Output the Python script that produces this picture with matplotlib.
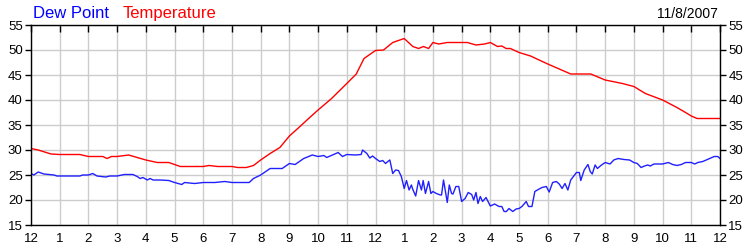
import matplotlib
matplotlib.use('Agg')
import matplotlib.pyplot as plt

# hours since midnight, values in deg F
temp_hours = [0, 0.25, 0.7, 1, 1.7, 2, 2.5, 2.65, 2.8, 3, 3.4, 3.7, 4, 4.4, 4.8, 5.0, 5.2,
              6, 6.2, 6.5, 7, 7.2, 7.5, 7.75, 8, 8.33, 8.67, 9, 9.37, 9.67, 10, 10.47,
              11, 11.33, 11.6, 12, 12.28, 12.6, 13, 13.3, 13.5, 13.67, 13.85, 14, 14.2,
              14.5, 15.2, 15.5, 15.8, 16, 16.25, 16.4, 16.55, 16.7, 17, 17.4, 17.7, 18,
              18.4, 18.8, 19.5, 20, 20.6, 21, 21.4, 22, 22.5, 22.8, 23, 23.2, 24]
temp_vals = [30.3, 30.0, 29.2, 29.1, 29.1, 28.7, 28.7, 28.3, 28.7, 28.7, 29.0, 28.5, 28.0,
             27.5, 27.5, 27.1, 26.7, 26.7, 26.9, 26.7, 26.7, 26.5, 26.5, 26.9, 28.0, 29.3,
             30.5, 32.8, 34.7, 36.3, 38.0, 40.3, 43.3, 45.2, 48.3, 49.9, 50.0, 51.5, 52.3,
             50.7, 50.3, 50.7, 50.3, 51.5, 51.2, 51.5, 51.5, 51.0, 51.2, 51.5, 50.7, 50.8,
             50.3, 50.3, 49.5, 48.8, 48.0, 47.2, 46.2, 45.2, 45.2, 44.0, 43.3, 42.7, 41.3,
             40.0, 38.5, 37.5, 36.8, 36.3, 36.3]

dew_hours = [0, 0.1, 0.25, 0.45, 0.8, 0.9, 1, 1.7, 1.8, 2,
             2.15, 2.3, 2.6, 2.75, 3, 3.25, 3.55, 3.7, 3.8, 3.9,
             4.05, 4.15, 4.25, 4.5, 4.8, 5, 5.25, 5.35, 5.7, 6,
             6.4, 6.75, 7, 7.6, 7.75, 8, 8.33, 8.75, 9, 9.2,
             9.5, 9.8, 10, 10.2, 10.3, 10.5, 10.7, 10.85, 11, 11.3,
             11.5, 11.55, 11.7, 11.8, 11.9, 12.0, 12.15, 12.25, 12.35, 12.45,
             12.5, 12.6, 12.7, 12.8, 12.9, 13, 13.08, 13.17, 13.25, 13.3,
             13.4, 13.5, 13.6, 13.66, 13.74, 13.85, 13.93, 14, 14.12, 14.26,
             14.3, 14.37, 14.5, 14.57, 14.65, 14.7, 14.8, 14.9, 15, 15.12,
             15.23, 15.35, 15.42, 15.5, 15.57, 15.65, 15.73, 15.85, 16, 16.15,
             16.3, 16.4, 16.48, 16.56, 16.65, 16.78, 16.9, 17, 17.1, 17.25,
             17.33, 17.45, 17.55, 17.67, 17.8, 17.95, 18.05, 18.17, 18.3, 18.4,
             18.5, 18.6, 18.7, 18.8, 19.0, 19.1, 19.15, 19.27, 19.4, 19.48,
             19.55, 19.65, 19.73, 19.85, 20, 20.17, 20.3, 20.45, 20.65, 20.85,
             21, 21.12, 21.25, 21.37, 21.48, 21.57, 21.7, 22, 22.2, 22.35,
             22.5, 22.65, 22.8, 23, 23.12, 23.23, 23.4, 23.6, 23.8, 23.92,
             24]
dew_vals = [25.3, 25.0, 25.6, 25.2, 25.0, 24.8, 24.8, 24.8, 25.0, 25.0,
            25.3, 24.8, 24.6, 24.8, 24.8, 25.1, 25.1, 24.7, 24.3, 24.5,
            24.0, 24.3, 24.0, 24.0, 23.9, 23.5, 23.1, 23.5, 23.3, 23.5,
            23.5, 23.7, 23.5, 23.5, 24.3, 25.0, 26.3, 26.3, 27.3, 27.1,
            28.3, 29.0, 28.7, 28.9, 28.5, 29.0, 29.5, 28.7, 29.1, 29.0,
            29.1, 30.0, 29.3, 28.4, 28.8, 28.3, 27.7, 27.9, 27.3, 27.8,
            28.0, 25.3, 26.0, 25.9, 24.7, 22.3, 23.9, 22.0, 23.0, 22.1,
            20.8, 23.9, 22.0, 23.9, 21.3, 23.7, 21.3, 21.7, 21.3, 21.0,
            21.0, 24.0, 19.5, 23.0, 21.3, 21.2, 22.7, 22.7, 19.7, 20.3,
            21.5, 21.1, 20.0, 21.5, 19.3, 20.7, 19.7, 20.5, 18.8, 19.2,
            18.7, 18.7, 17.7, 17.7, 18.3, 17.7, 18.2, 18.3, 18.7, 19.7,
            18.7, 18.7, 21.7, 22.1, 22.5, 22.7, 21.6, 23.5, 23.7, 23.2,
            22.3, 23.3, 22.0, 24.0, 25.5, 25.5, 23.9, 26.0, 27.1, 25.7,
            25.2, 27.0, 26.3, 26.9, 27.5, 27.2, 28.0, 28.3, 28.1, 28.0,
            27.5, 27.3, 26.5, 26.8, 27.0, 26.8, 27.2, 27.2, 27.5, 27.1,
            26.9, 27.1, 27.5, 27.5, 27.2, 27.5, 27.7, 28.2, 28.7, 28.7,
            28.3]

hour_labels = ['12', '1', '2', '3', '4', '5', '6', '7', '8', '9', '10', '11',
               '12', '1', '2', '3', '4', '5', '6', '7', '8', '9', '10', '11', '12']
y_ticks = [15, 20, 25, 30, 35, 40, 45, 50, 55]

plt.rcParams['font.family'] = ['Liberation Sans', 'DejaVu Sans']

fig = plt.figure(figsize=(7.5, 2.5), dpi=100)
ax = fig.add_axes([31 / 750, 25 / 250, 689 / 750, 200 / 250])

ax.plot(temp_hours, temp_vals, color='#ff0000', linewidth=1)
ax.plot(dew_hours, dew_vals, color='#2020ff', linewidth=1)

ax.set_xlim(0, 24)
ax.set_ylim(15, 55)
ax.set_xticks(range(25))
ax.set_xticklabels(hour_labels)
ax.set_yticks(y_ticks)
ax.grid(True, color='#cccccc', linewidth=1)
ax.set_axisbelow(True)

ax.tick_params(axis='x', bottom=False, top=True, direction='in', length=5,
               labelsize=9.5, pad=6, width=1)
ax.tick_params(axis='y', left=True, right=True, labelleft=True, labelright=True,
               direction='out', length=4, labelsize=9.5, pad=2, width=1)
for s in ax.spines.values():
    s.set_color('black')
    s.set_linewidth(1)

fig.text(33 / 750, 1 - 18 / 250, 'Dew Point', color='#0000ff', fontsize=12,
         ha='left', va='baseline')
fig.text(123 / 750, 1 - 18 / 250, 'Temperature', color='#ff0000', fontsize=12,
         ha='left', va='baseline')
fig.text(718 / 750, 1 - 18 / 250, '11/8/2007', color='black', fontsize=10,
         ha='right', va='baseline')

fig.savefig('out.png', dpi=100)
